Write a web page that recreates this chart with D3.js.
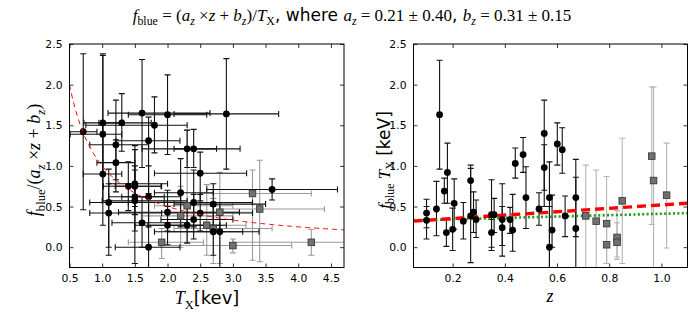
<!DOCTYPE html>
<html lang="en">
<head>
<meta charset="UTF-8" />
<title>f_blue vs T_X and z</title>
<style>
  body { margin: 0; background: #fff; }
  svg { display: block; }
</style>
</head>
<body>
<svg id="chart" width="700" height="315"></svg>
<script src="https://d3js.org/d3.v7.min.js"></script>
<script>
// left panel: [T, Tlo, Thi, f, flo, fhi]
const leftBlack = [
  [0.71, 0.45, 0.92, 1.42, 0.46, 2.38],
  [1.01, 0.72, 1.32, 1.53, 0.90, 2.38],
  [1.01, 0.51, 1.30, 1.39, 0.55, 2.36],
  [1.30, 0.95, 1.75, 1.53, 1.18, 1.89],
  [1.61, 1.09, 2.65, 1.65, 0.98, 2.31],
  [1.80, 0.75, 2.30, 1.50, 1.16, 1.85],
  [2.00, 1.40, 2.60, 1.63, 1.14, 2.12],
  [2.90, 2.10, 3.70, 1.64, 0.96, 2.32],
  [1.71, 1.21, 2.19, 1.31, 0.66, 1.60],
  [1.21, 0.81, 1.71, 1.26, 0.68, 1.81],
  [1.21, 0.92, 1.50, 1.04, 0.83, 1.32],
  [1.01, 0.71, 1.30, 0.90, 0.27, 1.53],
  [2.30, 1.61, 3.11, 1.21, 0.98, 1.44],
  [2.40, 2.10, 2.75, 1.21, 0.98, 1.45],
  [2.50, 1.80, 3.21, 0.91, 0.57, 1.17],
  [1.40, 1.02, 1.91, 0.75, 0.45, 1.05],
  [1.50, 1.10, 2.00, 0.78, 0.50, 1.25],
  [1.50, 1.20, 1.90, 0.75, 0.40, 1.20],
  [1.50, 1.10, 1.95, 0.62, 0.20, 1.00],
  [1.50, 1.00, 2.30, 0.57, -0.20, 0.95],
  [1.71, 1.30, 2.20, 0.62, 0.25, 1.00],
  [1.10, 0.81, 1.95, 0.55, -0.10, 0.96],
  [1.10, 0.81, 1.91, 0.42, 0.00, 0.78],
  [1.61, 1.15, 2.30, 0.30, 0.00, 0.62],
  [1.71, 1.20, 2.19, 0.00, -0.60, 0.60],
  [2.00, 1.25, 3.10, 0.43, 0.20, 0.70],
  [2.00, 1.50, 2.80, 0.27, 0.03, 0.50],
  [2.20, 1.80, 2.70, 0.67, 0.25, 1.09],
  [2.40, 1.40, 3.30, 0.55, 0.25, 0.95],
  [2.40, 1.90, 3.00, 0.34, 0.10, 0.65],
  [2.30, 1.70, 2.90, 0.27, 0.05, 0.55],
  [2.50, 2.00, 3.30, 0.42, 0.20, 0.65],
  [2.70, 2.10, 3.50, 0.53, 0.20, 0.78],
  [2.70, 2.00, 3.40, 0.19, -0.10, 0.50],
  [2.80, 1.80, 3.15, 0.19, -0.40, 0.55],
  [3.60, 2.60, 4.60, 0.71, 0.58, 0.84]
];
const leftGray = [
  [1.91, 1.40, 2.55, 0.06, -0.14, 0.23],
  [2.20, 1.60, 3.00, 0.385, 0.00, 0.75],
  [2.30, 1.80, 3.00, 0.51, 0.06, 1.44],
  [2.60, 2.00, 3.20, 0.27, -0.10, 0.77],
  [2.70, 2.10, 3.60, 0.23, -0.20, 0.60],
  [2.80, 2.20, 3.30, 0.43, -0.20, 0.92],
  [3.00, 1.90, 3.90, 0.02, -0.07, 0.10],
  [3.30, 2.50, 4.20, 0.66, -0.16, 0.95],
  [3.41, 2.80, 4.40, 0.47, -0.18, 1.07],
  [4.20, 3.00, 4.80, 0.06, -0.10, 0.22]
];
// right panel: [z, f, flo, fhi]
const rightBlack = [
  [0.100, 0.42, 0.24, 0.59], [0.100, 0.33, 0.10, 0.50], [0.138, 0.47, 0.14, 0.81],
  [0.150, 1.63, 0.96, 2.30], [0.168, 0.69, 0.54, 0.85], [0.180, 0.92, 0.54, 1.28],
  [0.176, 0.18, 0.01, 0.34], [0.200, 0.22, -0.04, 0.48], [0.206, 0.54, 0.22, 0.84],
  [0.241, 0.32, 0.10, 0.55], [0.269, 0.82, 0.38, 1.01], [0.269, 0.385, -0.19, 0.97],
  [0.280, 0.43, 0.18, 0.68], [0.290, 0.34, 0.12, 0.58], [0.349, 0.40, 0.00, 0.83],
  [0.349, 0.18, -0.04, 0.34], [0.359, 0.40, 0.18, 0.60], [0.390, 0.34, -0.11, 0.78],
  [0.390, 0.24, 0.02, 0.50], [0.420, 0.34, 0.17, 0.49], [0.430, 0.21, -0.05, 0.65],
  [0.440, 1.03, 0.85, 1.22], [0.470, 1.14, 0.92, 1.35], [0.481, 0.61, 0.23, 0.99],
  [0.531, 0.47, 0.27, 0.67], [0.551, 1.40, 0.70, 1.81], [0.551, 0.98, 0.50, 1.26],
  [0.571, 0.61, -0.40, 1.05], [0.571, 0.00, -0.60, 0.50], [0.581, 0.21, 0.00, 0.64],
  [0.601, 1.27, 1.01, 1.53], [0.620, 1.20, 0.91, 1.47], [0.631, 0.385, 0.13, 0.63],
  [0.672, 0.61, -0.50, 1.08], [0.672, 0.23, 0.13, 0.86]
];
const rightGray = [
  [0.710, 0.385, -0.40, 1.01], [0.750, 0.32, -0.40, 0.95], [0.790, 0.29, -0.20, 0.87],
  [0.790, 0.03, -0.20, 0.30], [0.830, 0.12, -0.12, 0.45], [0.830, 0.06, -0.15, 0.30],
  [0.850, 0.57, -0.20, 1.34], [0.963, 1.12, 0.28, 1.97], [0.970, 0.82, -0.40, 1.97],
  [1.020, 0.64, -0.01, 1.28]
];
const fitA = 0.21, fitB = 0.31;        // red dashed fit
const altA = 0.085, altB = 0.326;      // green dotted fit
const leftXTicks = [0.5, 1.0, 1.5, 2.0, 2.5, 3.0, 3.5, 4.0, 4.5];
const rightXTicks = [0.2, 0.4, 0.6, 0.8, 1.0];
const yTicks = [0.0, 0.5, 1.0, 1.5, 2.0, 2.5];

const svg = d3.select("#chart");
const plotTop = 44, plotBottom = 267.5;
const yL = d3.scaleLinear().domain([-0.25, 2.5]).range([plotBottom, plotTop]);
const yR = yL.copy();
const xL = d3.scaleLinear().domain([0.5, 4.7]).range([69.5, 344]);
const xR = d3.scaleLinear().domain([0.05, 1.1]).range([413.5, 687.5]);

const MATH = '"Liberation Serif", serif';
const SANS = '"DejaVu Sans", sans-serif';

// text made of segments: [text, kind, sub]; kind: i italic math, r roman math, s sans
function richText(g, segs, size) {
  const t = g.append("text").attr("font-size", size);
  let shifted = false;
  segs.forEach(([txt, kind, sub]) => {
    const sp = t.append("tspan").text(txt)
      .attr("font-family", kind === "s" ? SANS : MATH)
      .attr("font-style", kind === "i" ? "italic" : "normal");
    if (sub && !shifted) { sp.attr("dy", size * 0.25).attr("font-size", size * 0.7); shifted = true; }
    else if (sub) { sp.attr("font-size", size * 0.7); }
    else if (shifted) { sp.attr("dy", -size * 0.25); shifted = false; }
  });
  return t;
}

function panel(x, y, xTicks, id) {
  const g = svg.append("g");
  g.append("clipPath").attr("id", id).append("rect")
    .attr("x", x.range()[0]).attr("y", plotTop)
    .attr("width", x.range()[1] - x.range()[0]).attr("height", plotBottom - plotTop);
  const fmt = d3.format(".1f");
  g.append("g").attr("transform", `translate(0,${plotBottom})`)
    .call(d3.axisBottom(x).tickValues(xTicks).tickFormat(fmt).tickSizeInner(-4).tickSizeOuter(0).tickPadding(7))
    .call(a => a.select(".domain").remove());
  g.append("g").attr("transform", `translate(0,${plotTop})`)
    .call(d3.axisTop(x).tickValues(xTicks).tickFormat("").tickSizeInner(-4).tickSizeOuter(0))
    .call(a => a.select(".domain").remove());
  g.append("g").attr("transform", `translate(${x.range()[0]},0)`)
    .call(d3.axisLeft(y).tickValues(yTicks).tickFormat(fmt).tickSizeInner(-4).tickSizeOuter(0).tickPadding(7))
    .call(a => a.select(".domain").remove());
  g.append("g").attr("transform", `translate(${x.range()[1]},0)`)
    .call(d3.axisRight(y).tickValues(yTicks).tickFormat("").tickSizeInner(-4).tickSizeOuter(0))
    .call(a => a.select(".domain").remove());
  g.selectAll(".tick line").attr("stroke", "#000").attr("stroke-width", 0.8);
  g.selectAll(".tick text").attr("font-family", SANS).attr("font-size", 10.8).attr("fill", "#000");
  const plot = svg.append("g").attr("clip-path", `url(#${id})`);
  svg.append("rect").attr("x", x.range()[0]).attr("y", plotTop)
    .attr("width", x.range()[1] - x.range()[0]).attr("height", plotBottom - plotTop)
    .attr("fill", "none").attr("stroke", "#000").attr("stroke-width", 1);
  return plot;
}

function errBars(g, rows, x, y, col, hasX) {
  const cap = 3;
  rows.forEach(r => {
    const [px, py, ylo, yhi] = hasX ? [r[0], r[3], r[4], r[5]] : [r[0], r[1], r[2], r[3]];
    const e = g.append("g").attr("stroke", col).attr("stroke-width", 1.1).attr("fill", "none");
    e.append("line").attr("x1", x(px)).attr("x2", x(px)).attr("y1", y(ylo)).attr("y2", y(yhi));
    [ylo, yhi].forEach(v => e.append("line").attr("x1", x(px) - cap).attr("x2", x(px) + cap)
      .attr("y1", y(v)).attr("y2", y(v)));
    if (hasX) {
      e.append("line").attr("x1", x(r[1])).attr("x2", x(r[2])).attr("y1", y(py)).attr("y2", y(py));
      [r[1], r[2]].forEach(v => e.append("line").attr("x1", x(v)).attr("x2", x(v))
        .attr("y1", y(py) - cap).attr("y2", y(py) + cap));
    }
  });
}

function markers(g, rows, x, y, xi, yi, square) {
  if (square) {
    g.selectAll(null).data(rows).join("rect")
      .attr("x", d => x(d[xi]) - 3.3).attr("y", d => y(d[yi]) - 3.3)
      .attr("width", 6.6).attr("height", 6.6)
      .attr("fill", "#707070").attr("stroke", "#333").attr("stroke-width", 0.8);
  } else {
    g.selectAll(null).data(rows).join("circle")
      .attr("cx", d => x(d[xi])).attr("cy", d => y(d[yi])).attr("r", 3.4).attr("fill", "#000");
  }
}

// ---- left panel
const pl = panel(xL, yL, leftXTicks, "clipL");
errBars(pl, leftGray, xL, yL, "#9a9a9a", true);
errBars(pl, leftBlack, xL, yL, "#111", true);
markers(pl, leftGray, xL, yL, 0, 3, true);
markers(pl, leftBlack, xL, yL, 0, 3, false);
const invT = d3.range(0.5, 4.71, 0.02);
pl.append("path").datum(invT)
  .attr("d", d3.line().x(t => xL(t)).y(t => yL(1 / t)))
  .attr("fill", "none").attr("stroke", "#ff0000").attr("stroke-width", 1).attr("stroke-dasharray", "5,4");

// ---- right panel
const pr = panel(xR, yR, rightXTicks, "clipR");
errBars(pr, rightGray, xR, yR, "#b4b4b4", false);
errBars(pr, rightBlack, xR, yR, "#111", false);
const zs = xR.domain();
pr.append("path").datum(zs)
  .attr("d", d3.line().x(z => xR(z)).y(z => yR(altA * z + altB)))
  .attr("fill", "none").attr("stroke", "#1a9a1a").attr("stroke-width", 2.6).attr("stroke-dasharray", "2,2.4");
pr.append("path").datum(zs)
  .attr("d", d3.line().x(z => xR(z)).y(z => yR(fitA * z + fitB)))
  .attr("fill", "none").attr("stroke", "#ff0000").attr("stroke-width", 3.4).attr("stroke-dasharray", "9,5");
markers(pr, rightGray, xR, yR, 0, 1, true);
markers(pr, rightBlack, xR, yR, 0, 1, false);

// ---- labels
const labels = svg.append("g").attr("fill", "#000");
richText(labels, [["f", "i"], ["blue", "r", true], [" = (", "r"], ["a", "i"], ["z", "i", true], [" \u00d7", "r"],
  ["z", "i"], [" + ", "r"], ["b", "i"], ["z", "i", true], [")/", "r"], ["T", "i"], ["X", "r", true],
  [", where ", "s"], ["a", "i"], ["z", "i", true], [" = 0.21 \u00b1 0.40", "r"], [", ", "s"],
  ["b", "i"], ["z", "i", true], [" = 0.31 \u00b1 0.15", "r"]], 17)
  .attr("x", 352).attr("y", 21).attr("text-anchor", "middle");

richText(labels, [["f", "i"], ["blue", "r", true], ["/(", "r"], ["a", "i"], ["z", "i", true], [" \u00d7", "r"],
  ["z", "i"], [" + ", "r"], ["b", "i"], ["z", "i", true], [")", "r"]], 18)
  .attr("text-anchor", "middle").attr("transform", "translate(40,160) rotate(-90)");

richText(labels, [["f", "i"], ["blue", "r", true], [" T", "i"], ["X", "r", true], [" [keV]", "s"]], 17)
  .attr("text-anchor", "middle").attr("transform", "translate(390,160) rotate(-90)");

richText(labels, [["T", "i"], ["X", "r", true], ["[kev]", "s"]], 18)
  .attr("x", 207).attr("y", 304).attr("text-anchor", "middle");

richText(labels, [["z", "i"]], 18)
  .attr("x", 550).attr("y", 302).attr("text-anchor", "middle");
</script>
</body>
</html>
